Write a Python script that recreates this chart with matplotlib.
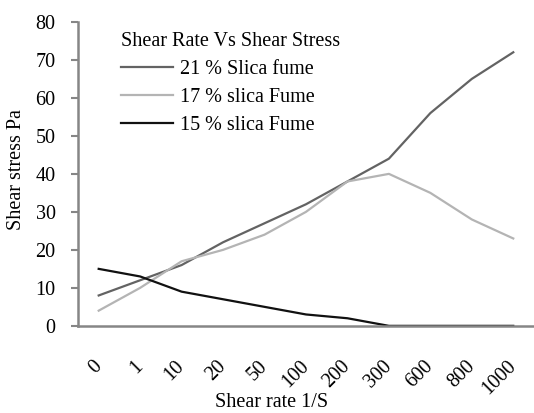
import numpy as np
import matplotlib
matplotlib.use('Agg')
import matplotlib.pyplot as plt

# data
rates = ['0', '1', '10', '20', '50', '100', '200', '300', '600', '800', '1000']
fume21 = [8, 12, 16, 22, 27, 32, 38, 44, 56, 65, 72]
fume17 = [4, 10, 17, 20, 24, 30, 38, 40, 35, 28, 23]
fume15 = [15, 13, 9, 7, 5, 3, 2, 0, 0, 0, 0]

plt.rcParams['font.family'] = ['Liberation Serif', 'DejaVu Serif']
fs = 14.5

fig = plt.figure(figsize=(5.34, 4.13), dpi=100)
ax = fig.add_axes([0.146, 0.211, 0.854, 0.736])

x = np.arange(len(rates))
ax.plot(x, fume21, color='#636363', lw=1.6, label='21 % Slica fume')
ax.plot(x, fume17, color='#b4b4b4', lw=1.6, label='17 % slica Fume')
ax.plot(x, fume15, color='#111111', lw=1.6, label='15 % slica Fume')

ax.set_xlim(-0.5, len(rates) - 0.5)
ax.set_ylim(0, 80)
ax.set_yticks(range(0, 81, 10))
ax.set_xticks(x)
ax.set_xticklabels(rates, rotation=45, ha='right', va='center', rotation_mode='anchor')

for s in ['top', 'right']:
    ax.spines[s].set_visible(False)
for s in ['left', 'bottom']:
    ax.spines[s].set_color('#868686')
    ax.spines[s].set_linewidth(1.8)
ax.tick_params(axis='y', length=5, width=1.5, color='#868686', pad=11, labelsize=fs)
ax.tick_params(axis='x', length=0, pad=27, labelsize=fs)

ax.set_xlabel('Shear rate 1/S', fontsize=fs, va='top')
ax.xaxis.set_label_coords(0.425, -0.222)
ax.set_ylabel('Shear stress Pa', fontsize=fs, va='center')
ax.yaxis.set_label_coords(-0.134, 0.513)

leg = ax.legend(title='Shear Rate Vs Shear Stress', loc='upper left',
                bbox_to_anchor=(0.054, 1.025), frameon=False, fontsize=fs,
                title_fontsize=fs, handlelength=2.6, handletextpad=0.35,
                labelspacing=0.45)
leg._legend_box.align = 'left'
leg._legend_box.sep = 6

fig.savefig('out.png', dpi=100)
